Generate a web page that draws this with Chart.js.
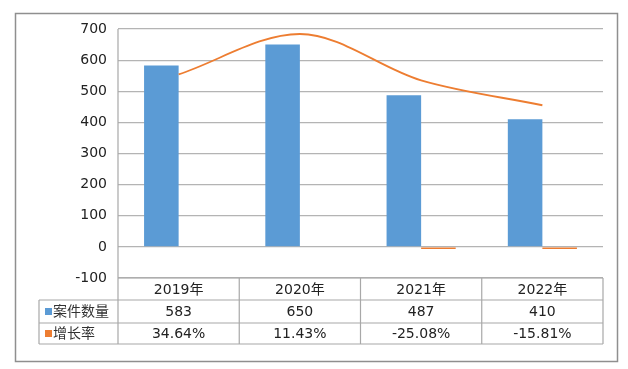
<!DOCTYPE html>
<html>
<head>
<meta charset="utf-8">
<script src="https://cdn.jsdelivr.net/npm/chart.js@4/dist/chart.umd.min.js"></script>
<style>
  html, body { margin: 0; padding: 0; background: #fff; }
  #wrap { width: 628px; height: 369px; }
</style>
</head>
<body>
<div id="wrap"><canvas id="c" width="628" height="369"></canvas></div>
<script>
// ---- data ----
const categories = ['2019年', '2020年', '2021年', '2022年'];
const caseCounts = [583, 650, 487, 410];
const growthRates = [34.64, 11.43, -25.08, -15.81]; // percent
const trendValues = [554, 684, 535, 455];           // smoothed orange line as drawn
const seriesNames = ['案件数量', '增长率'];
const yMin = -100, yMax = 700, yStep = 100;

const BLUE = '#5b9bd5';
const ORANGE = '#ed7d31';
const FONT = '"DejaVu Sans", "Noto Sans CJK SC", sans-serif';

const frameAndTable = {
  id: 'frameAndTable',
  beforeDraw(chart) {
    const ctx = chart.ctx;
    ctx.save();
    ctx.fillStyle = '#fff';
    ctx.fillRect(0, 0, chart.width, chart.height);
    ctx.strokeStyle = '#8f8f8f';
    ctx.lineWidth = 1.5;
    ctx.strokeRect(15.5, 13.5, 602, 348);
    ctx.restore();
  },
  afterDraw(chart) {
    const ctx = chart.ctx;
    const area = chart.chartArea;
    const xs = chart.scales.x;
    const n = categories.length;
    const cw = (area.right - area.left) / n;
    const top = area.bottom;
    const rowH = [22, 23, 21];
    const y1 = top + rowH[0], y2 = y1 + rowH[1], y3 = y2 + rowH[2];
    const labelLeft = 39;
    ctx.save();
    ctx.strokeStyle = '#a8a8a8';
    ctx.lineWidth = 1.2;
    ctx.beginPath();
    // horizontal lines
    ctx.moveTo(area.left, top); ctx.lineTo(area.right, top);
    ctx.moveTo(labelLeft, y1); ctx.lineTo(area.right, y1);
    ctx.moveTo(labelLeft, y2); ctx.lineTo(area.right, y2);
    ctx.moveTo(labelLeft, y3); ctx.lineTo(area.right, y3);
    // vertical lines
    ctx.moveTo(labelLeft, y1); ctx.lineTo(labelLeft, y3);
    ctx.moveTo(area.left, area.top); ctx.lineTo(area.left, y3);
    for (let i = 0; i < n; i++) {
      const xr = xs.getPixelForValue(i) + cw / 2;
      ctx.moveTo(xr, top); ctx.lineTo(xr, y3);
    }
    ctx.stroke();

    ctx.fillStyle = '#222';
    ctx.font = '14px ' + FONT;
    ctx.textAlign = 'center';
    ctx.textBaseline = 'middle';
    for (let i = 0; i < n; i++) {
      const cx = xs.getPixelForValue(i);
      ctx.fillText(categories[i], cx, (top + y1) / 2 + 1);
      ctx.fillText(String(caseCounts[i]), cx, (y1 + y2) / 2 + 1);
      ctx.fillText(growthRates[i].toFixed(2) + '%', cx, (y2 + y3) / 2 + 1);
    }
    // row labels with legend squares
    ctx.textAlign = 'left';
    const colors = [BLUE, ORANGE];
    const rows = [[y1, y2], [y2, y3]];
    for (let r = 0; r < 2; r++) {
      const cy = (rows[r][0] + rows[r][1]) / 2;
      ctx.fillStyle = colors[r];
      ctx.fillRect(45, cy - 3.5, 7, 7);
      ctx.fillStyle = '#333';
      ctx.fillText(seriesNames[r], 53, cy + 1);
    }
    ctx.restore();
  }
};

new Chart(document.getElementById('c'), {
  data: {
    labels: categories,
    datasets: [
      {
        type: 'line',
        label: 'trend',
        data: trendValues,
        borderColor: ORANGE,
        borderWidth: 1.8,
        pointRadius: 0,
        fill: false,
        cubicInterpolationMode: 'monotone',
        order: 0
      },
      {
        type: 'bar',
        label: seriesNames[0],
        data: caseCounts,
        backgroundColor: BLUE,
        categoryPercentage: 0.57,
        barPercentage: 1.0,
        order: 1
      },
      {
        type: 'bar',
        label: seriesNames[1],
        data: growthRates.map(v => v / 100),
        backgroundColor: (c) => (c.raw < 0 ? ORANGE : 'rgba(0,0,0,0)'),
        minBarLength: 2,
        categoryPercentage: 0.57,
        barPercentage: 1.0,
        order: 1
      }
    ]
  },
  options: {
    responsive: false,
    animation: false,
    events: [],
    layout: { padding: { left: 0, top: 29, right: 25, bottom: 91 } },
    plugins: { legend: { display: false }, tooltip: { enabled: false } },
    scales: {
      x: { display: false, offset: true },
      y: {
        min: yMin, max: yMax,
        afterFit(scale) { scale.width = 118; },
        border: { display: false },
        grid: { color: '#b4b4b4', lineWidth: 1.2, drawTicks: false },
        ticks: {
          stepSize: yStep,
          padding: 11,
          color: '#222',
          font: { family: FONT, size: 14 }
        }
      }
    }
  },
  plugins: [frameAndTable]
});
</script>
</body>
</html>
